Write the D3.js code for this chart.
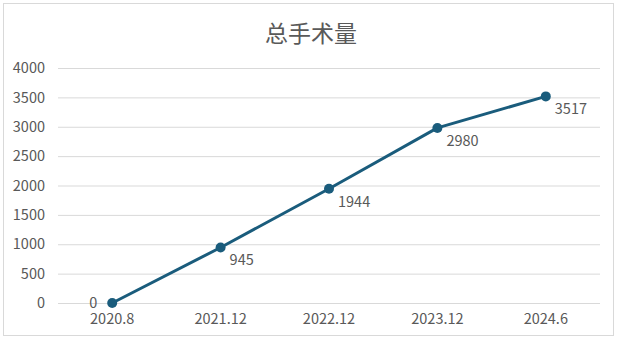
<!DOCTYPE html>
<html lang="zh">
<head>
<meta charset="UTF-8">
<title>总手术量</title>
<script src="https://cdn.jsdelivr.net/npm/d3@7/dist/d3.min.js"></script>
<style>
  body { margin: 0; background: #fff; }
  text { font-family: "Noto Sans CJK SC", "Liberation Sans", sans-serif; fill: #595959; }
</style>
</head>
<body>
<div id="box"></div>
<script>
  // data
  const categories = ["2020.8", "2021.12", "2022.12", "2023.12", "2024.6"];
  const values = [0, 945, 1944, 2980, 3517];
  const yTicks = [0, 500, 1000, 1500, 2000, 2500, 3000, 3500, 4000];
  const title = "总手术量";

  const width = 620, height = 340;
  const margin = {top: 68, right: 20, bottom: 37, left: 58};
  const innerWidth = 600 - margin.left;
  const innerHeight = height - margin.top - margin.bottom;

  const svg = d3.select("#box").append("svg")
    .attr("width", width).attr("height", height);

  // chart border
  svg.append("rect")
    .attr("x", 3.5).attr("y", 3.5)
    .attr("width", 610).attr("height", 332)
    .attr("fill", "#fff").attr("stroke", "#d9d9d9");

  svg.append("text").text(title)
    .attr("x", 311).attr("y", 42)
    .attr("text-anchor", "middle")
    .attr("font-size", "23px");

  const xScale = d3.scaleBand().domain(categories).range([0, innerWidth]);
  const yScale = d3.scaleLinear().domain([0, 4000]).range([innerHeight, 0]);

  const g = svg.append("g")
    .attr("transform", `translate(${margin.left},${margin.top})`);

  // grid + y labels
  const yAxis = d3.axisLeft(yScale).tickValues(yTicks)
    .tickFormat(d3.format("d"))
    .tickSize(-innerWidth).tickPadding(13);
  g.append("g").call(yAxis)
    .call(a => a.select(".domain").remove())
    .call(a => a.selectAll(".tick line").attr("stroke", "#d9d9d9"))
    .call(a => a.selectAll(".tick text").attr("font-size", "14.5px").attr("fill", "#595959"));

  const xAxis = d3.axisBottom(xScale).tickSize(0).tickPadding(11);
  g.append("g").attr("transform", `translate(0,${innerHeight})`).call(xAxis)
    .call(a => a.select(".domain").remove())
    .call(a => a.selectAll(".tick text").attr("font-size", "14.5px").attr("fill", "#595959"));

  const cx = d => xScale(d) + xScale.bandwidth() / 2;
  const pts = categories.map((c, i) => ({c, v: values[i]}));

  g.append("path").datum(pts)
    .attr("fill", "none")
    .attr("stroke", "#1a5c7c")
    .attr("stroke-width", 3)
    .attr("stroke-linejoin", "round")
    .attr("d", d3.line().x(d => cx(d.c)).y(d => yScale(d.v)));

  g.selectAll("circle").data(pts).join("circle")
    .attr("cx", d => cx(d.c)).attr("cy", d => yScale(d.v))
    .attr("r", 5).attr("fill", "#1a5c7c");

  g.selectAll(".lbl").data(pts).join("text")
    .attr("class", "lbl")
    .attr("font-size", "14.5px")
    .attr("x", d => d.v === 0 ? cx(d.c) - 15 : cx(d.c) + 9)
    .attr("y", d => d.v === 0 ? yScale(d.v) + 5 : yScale(d.v) + 18)
    .attr("text-anchor", d => d.v === 0 ? "end" : "start")
    .text(d => d.v);
</script>
</body>
</html>
